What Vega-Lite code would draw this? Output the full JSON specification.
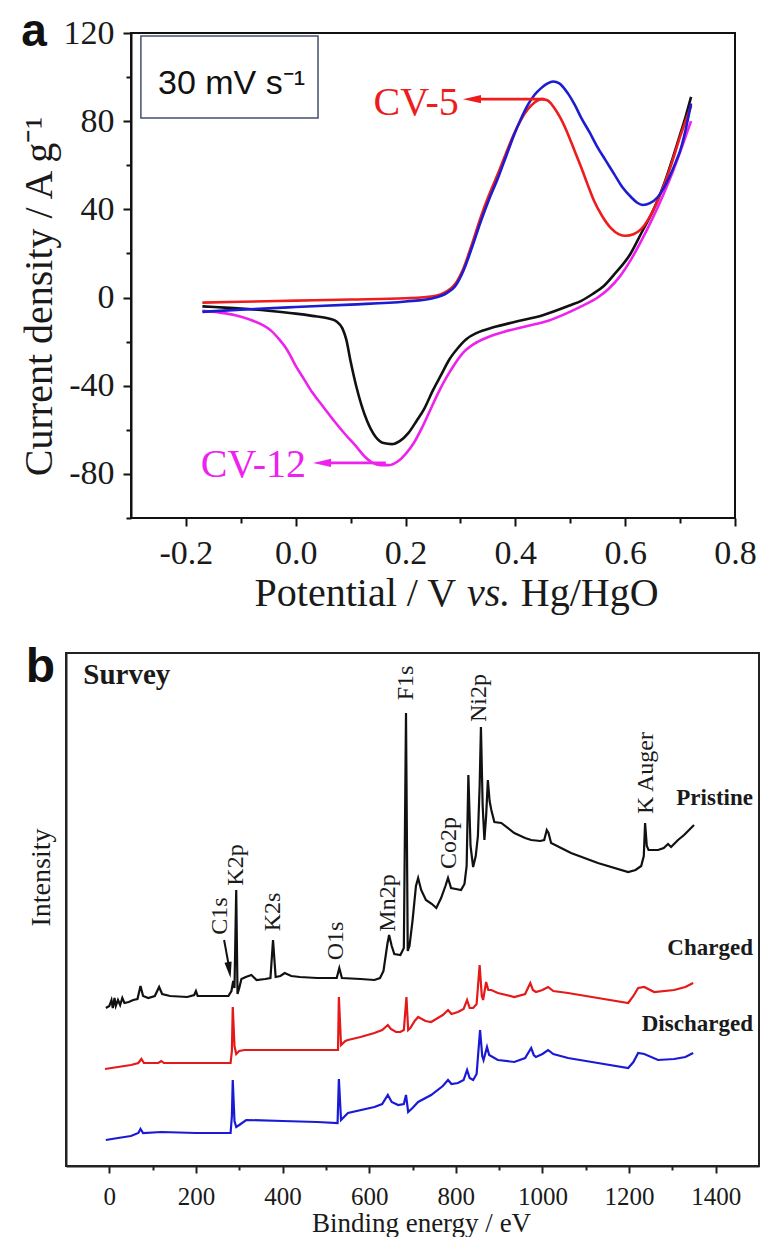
{
  "$schema": "https://vega.github.io/schema/vega-lite/v6.json",
  "background": "white",
  "padding": {"left": 18, "top": 9, "right": 0, "bottom": 0},
  "spacing": 28,
  "resolve": {"scale": {"color": "independent"}},
  "config": {
    "font": "Liberation Serif",
    "view": {"stroke": "#111111", "strokeWidth": 2},
    "axis": {
      "grid": false,
      "domainColor": "#111111",
      "domainWidth": 2,
      "tickColor": "#111111",
      "tickWidth": 2,
      "labelColor": "#1a1a1a",
      "titleColor": "#1a1a1a",
      "labelFont": "Liberation Serif",
      "titleFont": "Liberation Serif",
      "titleFontWeight": "normal",
      "labelOverlap": false,
      "labelFlush": false
    }
  },
  "datasets": {
    "one": [{}],
    "cv": [
      {"s": "CV-5 reverse", "E": 0.72, "j": 91}, {"s": "CV-5 reverse", "E": 0.71, "j": 82}, {"s": "CV-5 reverse", "E": 0.70, "j": 74}, {"s": "CV-5 reverse", "E": 0.69, "j": 66},
      {"s": "CV-5 reverse", "E": 0.67, "j": 51}, {"s": "CV-5 reverse", "E": 0.65, "j": 39}, {"s": "CV-5 reverse", "E": 0.63, "j": 29.5}, {"s": "CV-5 reverse", "E": 0.61, "j": 20},
      {"s": "CV-5 reverse", "E": 0.58, "j": 10.5}, {"s": "CV-5 reverse", "E": 0.56, "j": 5}, {"s": "CV-5 reverse", "E": 0.54, "j": 1.5}, {"s": "CV-5 reverse", "E": 0.52, "j": -1.5},
      {"s": "CV-5 reverse", "E": 0.50, "j": -3.5}, {"s": "CV-5 reverse", "E": 0.45, "j": -8}, {"s": "CV-5 reverse", "E": 0.40, "j": -11}, {"s": "CV-5 reverse", "E": 0.36, "j": -13.5},
      {"s": "CV-5 reverse", "E": 0.33, "j": -16}, {"s": "CV-5 reverse", "E": 0.31, "j": -19}, {"s": "CV-5 reverse", "E": 0.295, "j": -23}, {"s": "CV-5 reverse", "E": 0.28, "j": -28},
      {"s": "CV-5 reverse", "E": 0.265, "j": -35}, {"s": "CV-5 reverse", "E": 0.25, "j": -42}, {"s": "CV-5 reverse", "E": 0.235, "j": -50}, {"s": "CV-5 reverse", "E": 0.22, "j": -56},
      {"s": "CV-5 reverse", "E": 0.205, "j": -61.5}, {"s": "CV-5 reverse", "E": 0.19, "j": -65}, {"s": "CV-5 reverse", "E": 0.175, "j": -66.5}, {"s": "CV-5 reverse", "E": 0.16, "j": -66},
      {"s": "CV-5 reverse", "E": 0.145, "j": -63}, {"s": "CV-5 reverse", "E": 0.13, "j": -56}, {"s": "CV-5 reverse", "E": 0.12, "j": -49}, {"s": "CV-5 reverse", "E": 0.11, "j": -40},
      {"s": "CV-5 reverse", "E": 0.10, "j": -29}, {"s": "CV-5 reverse", "E": 0.092, "j": -19}, {"s": "CV-5 reverse", "E": 0.085, "j": -14}, {"s": "CV-5 reverse", "E": 0.075, "j": -11},
      {"s": "CV-5 reverse", "E": 0.06, "j": -9.5}, {"s": "CV-5 reverse", "E": 0.03, "j": -8.3}, {"s": "CV-5 reverse", "E": 0.0, "j": -7.3}, {"s": "CV-5 reverse", "E": -0.05, "j": -6},
      {"s": "CV-5 reverse", "E": -0.1, "j": -5}, {"s": "CV-5 reverse", "E": -0.17, "j": -4},

      {"s": "CV-12 reverse", "E": 0.72, "j": 80}, {"s": "CV-12 reverse", "E": 0.71, "j": 73}, {"s": "CV-12 reverse", "E": 0.70, "j": 66}, {"s": "CV-12 reverse", "E": 0.685, "j": 56},
      {"s": "CV-12 reverse", "E": 0.67, "j": 47}, {"s": "CV-12 reverse", "E": 0.65, "j": 36}, {"s": "CV-12 reverse", "E": 0.63, "j": 26}, {"s": "CV-12 reverse", "E": 0.61, "j": 17},
      {"s": "CV-12 reverse", "E": 0.59, "j": 9.5}, {"s": "CV-12 reverse", "E": 0.57, "j": 4}, {"s": "CV-12 reverse", "E": 0.55, "j": 0}, {"s": "CV-12 reverse", "E": 0.52, "j": -4},
      {"s": "CV-12 reverse", "E": 0.49, "j": -7.5}, {"s": "CV-12 reverse", "E": 0.46, "j": -10.5}, {"s": "CV-12 reverse", "E": 0.42, "j": -13}, {"s": "CV-12 reverse", "E": 0.38, "j": -15.5},
      {"s": "CV-12 reverse", "E": 0.35, "j": -18}, {"s": "CV-12 reverse", "E": 0.325, "j": -21}, {"s": "CV-12 reverse", "E": 0.305, "j": -25}, {"s": "CV-12 reverse", "E": 0.29, "j": -30},
      {"s": "CV-12 reverse", "E": 0.275, "j": -36}, {"s": "CV-12 reverse", "E": 0.26, "j": -43}, {"s": "CV-12 reverse", "E": 0.245, "j": -51}, {"s": "CV-12 reverse", "E": 0.23, "j": -59},
      {"s": "CV-12 reverse", "E": 0.215, "j": -66}, {"s": "CV-12 reverse", "E": 0.20, "j": -71}, {"s": "CV-12 reverse", "E": 0.185, "j": -74.5}, {"s": "CV-12 reverse", "E": 0.17, "j": -76},
      {"s": "CV-12 reverse", "E": 0.155, "j": -76}, {"s": "CV-12 reverse", "E": 0.14, "j": -75}, {"s": "CV-12 reverse", "E": 0.125, "j": -72}, {"s": "CV-12 reverse", "E": 0.11, "j": -67.5},
      {"s": "CV-12 reverse", "E": 0.09, "j": -62}, {"s": "CV-12 reverse", "E": 0.07, "j": -56}, {"s": "CV-12 reverse", "E": 0.05, "j": -49.5}, {"s": "CV-12 reverse", "E": 0.03, "j": -43},
      {"s": "CV-12 reverse", "E": 0.015, "j": -37}, {"s": "CV-12 reverse", "E": 0.0, "j": -31}, {"s": "CV-12 reverse", "E": -0.015, "j": -24}, {"s": "CV-12 reverse", "E": -0.03, "j": -19},
      {"s": "CV-12 reverse", "E": -0.045, "j": -15}, {"s": "CV-12 reverse", "E": -0.06, "j": -12.5}, {"s": "CV-12 reverse", "E": -0.08, "j": -10.3}, {"s": "CV-12 reverse", "E": -0.11, "j": -8},
      {"s": "CV-12 reverse", "E": -0.14, "j": -6.8}, {"s": "CV-12 reverse", "E": -0.17, "j": -6},

      {"s": "CV-5 forward", "E": -0.17, "j": -2.3}, {"s": "CV-5 forward", "E": -0.1, "j": -1.9}, {"s": "CV-5 forward", "E": 0.0, "j": -1.4}, {"s": "CV-5 forward", "E": 0.1, "j": -0.9},
      {"s": "CV-5 forward", "E": 0.2, "j": -0.3}, {"s": "CV-5 forward", "E": 0.25, "j": 0.6}, {"s": "CV-5 forward", "E": 0.275, "j": 2.8}, {"s": "CV-5 forward", "E": 0.29, "j": 6},
      {"s": "CV-5 forward", "E": 0.305, "j": 13}, {"s": "CV-5 forward", "E": 0.32, "j": 23.5}, {"s": "CV-5 forward", "E": 0.337, "j": 36.5}, {"s": "CV-5 forward", "E": 0.352, "j": 46.5},
      {"s": "CV-5 forward", "E": 0.368, "j": 56}, {"s": "CV-5 forward", "E": 0.383, "j": 65.5}, {"s": "CV-5 forward", "E": 0.398, "j": 74.5}, {"s": "CV-5 forward", "E": 0.41, "j": 80.5},
      {"s": "CV-5 forward", "E": 0.423, "j": 85.5}, {"s": "CV-5 forward", "E": 0.435, "j": 88.5}, {"s": "CV-5 forward", "E": 0.447, "j": 90}, {"s": "CV-5 forward", "E": 0.458, "j": 89.5},
      {"s": "CV-5 forward", "E": 0.471, "j": 86}, {"s": "CV-5 forward", "E": 0.483, "j": 81}, {"s": "CV-5 forward", "E": 0.496, "j": 74}, {"s": "CV-5 forward", "E": 0.508, "j": 66.5},
      {"s": "CV-5 forward", "E": 0.52, "j": 59}, {"s": "CV-5 forward", "E": 0.532, "j": 51}, {"s": "CV-5 forward", "E": 0.543, "j": 44}, {"s": "CV-5 forward", "E": 0.558, "j": 37},
      {"s": "CV-5 forward", "E": 0.574, "j": 31.5}, {"s": "CV-5 forward", "E": 0.588, "j": 28.8}, {"s": "CV-5 forward", "E": 0.601, "j": 28}, {"s": "CV-5 forward", "E": 0.615, "j": 28.7},
      {"s": "CV-5 forward", "E": 0.629, "j": 31}, {"s": "CV-5 forward", "E": 0.641, "j": 35}, {"s": "CV-5 forward", "E": 0.653, "j": 40.6}, {"s": "CV-5 forward", "E": 0.665, "j": 47.5},
      {"s": "CV-5 forward", "E": 0.678, "j": 56}, {"s": "CV-5 forward", "E": 0.69, "j": 65}, {"s": "CV-5 forward", "E": 0.70, "j": 73}, {"s": "CV-5 forward", "E": 0.71, "j": 80},
      {"s": "CV-5 forward", "E": 0.72, "j": 87},

      {"s": "CV-12 forward", "E": -0.17, "j": -6.5}, {"s": "CV-12 forward", "E": -0.1, "j": -5.5}, {"s": "CV-12 forward", "E": 0.0, "j": -4.3}, {"s": "CV-12 forward", "E": 0.1, "j": -3.2},
      {"s": "CV-12 forward", "E": 0.2, "j": -1.8}, {"s": "CV-12 forward", "E": 0.25, "j": -0.3}, {"s": "CV-12 forward", "E": 0.275, "j": 2}, {"s": "CV-12 forward", "E": 0.29, "j": 5},
      {"s": "CV-12 forward", "E": 0.306, "j": 12.5}, {"s": "CV-12 forward", "E": 0.32, "j": 22}, {"s": "CV-12 forward", "E": 0.337, "j": 34.5}, {"s": "CV-12 forward", "E": 0.352, "j": 44.5},
      {"s": "CV-12 forward", "E": 0.368, "j": 54}, {"s": "CV-12 forward", "E": 0.383, "j": 64}, {"s": "CV-12 forward", "E": 0.398, "j": 74}, {"s": "CV-12 forward", "E": 0.41, "j": 81},
      {"s": "CV-12 forward", "E": 0.423, "j": 87.5}, {"s": "CV-12 forward", "E": 0.435, "j": 92}, {"s": "CV-12 forward", "E": 0.447, "j": 95}, {"s": "CV-12 forward", "E": 0.458, "j": 97},
      {"s": "CV-12 forward", "E": 0.469, "j": 98}, {"s": "CV-12 forward", "E": 0.48, "j": 97.2}, {"s": "CV-12 forward", "E": 0.496, "j": 92.5}, {"s": "CV-12 forward", "E": 0.508, "j": 87.5},
      {"s": "CV-12 forward", "E": 0.52, "j": 81.5}, {"s": "CV-12 forward", "E": 0.535, "j": 75}, {"s": "CV-12 forward", "E": 0.55, "j": 68}, {"s": "CV-12 forward", "E": 0.565, "j": 62},
      {"s": "CV-12 forward", "E": 0.58, "j": 56}, {"s": "CV-12 forward", "E": 0.595, "j": 50}, {"s": "CV-12 forward", "E": 0.611, "j": 45.5}, {"s": "CV-12 forward", "E": 0.622, "j": 43},
      {"s": "CV-12 forward", "E": 0.632, "j": 42}, {"s": "CV-12 forward", "E": 0.645, "j": 42.8}, {"s": "CV-12 forward", "E": 0.659, "j": 45.5}, {"s": "CV-12 forward", "E": 0.671, "j": 50},
      {"s": "CV-12 forward", "E": 0.683, "j": 56}, {"s": "CV-12 forward", "E": 0.693, "j": 62}, {"s": "CV-12 forward", "E": 0.70, "j": 66.5}, {"s": "CV-12 forward", "E": 0.71, "j": 76},
      {"s": "CV-12 forward", "E": 0.72, "j": 88}
    ],
    "xps": [
      {"s": "Pristine", "B": -8, "I": 158}, {"s": "Pristine", "B": 0, "I": 160}, {"s": "Pristine", "B": 5, "I": 166}, {"s": "Pristine", "B": 8, "I": 158},
      {"s": "Pristine", "B": 12, "I": 168}, {"s": "Pristine", "B": 15, "I": 160}, {"s": "Pristine", "B": 20, "I": 166}, {"s": "Pristine", "B": 25, "I": 161},
      {"s": "Pristine", "B": 30, "I": 168}, {"s": "Pristine", "B": 35, "I": 163}, {"s": "Pristine", "B": 45, "I": 164}, {"s": "Pristine", "B": 55, "I": 166},
      {"s": "Pristine", "B": 65, "I": 167}, {"s": "Pristine", "B": 72, "I": 180}, {"s": "Pristine", "B": 78, "I": 170}, {"s": "Pristine", "B": 90, "I": 168},
      {"s": "Pristine", "B": 105, "I": 170}, {"s": "Pristine", "B": 115, "I": 179}, {"s": "Pristine", "B": 122, "I": 172}, {"s": "Pristine", "B": 140, "I": 170},
      {"s": "Pristine", "B": 180, "I": 169}, {"s": "Pristine", "B": 196, "I": 171}, {"s": "Pristine", "B": 200, "I": 175}, {"s": "Pristine", "B": 204, "I": 170},
      {"s": "Pristine", "B": 240, "I": 170}, {"s": "Pristine", "B": 275, "I": 170}, {"s": "Pristine", "B": 282, "I": 175}, {"s": "Pristine", "B": 286, "I": 185},
      {"s": "Pristine", "B": 289, "I": 178}, {"s": "Pristine", "B": 293, "I": 276}, {"s": "Pristine", "B": 296, "I": 172}, {"s": "Pristine", "B": 300, "I": 178},
      {"s": "Pristine", "B": 305, "I": 187}, {"s": "Pristine", "B": 315, "I": 189}, {"s": "Pristine", "B": 328, "I": 191}, {"s": "Pristine", "B": 340, "I": 186},
      {"s": "Pristine", "B": 360, "I": 187}, {"s": "Pristine", "B": 372, "I": 188}, {"s": "Pristine", "B": 378, "I": 226}, {"s": "Pristine", "B": 384, "I": 189},
      {"s": "Pristine", "B": 395, "I": 190}, {"s": "Pristine", "B": 405, "I": 193}, {"s": "Pristine", "B": 420, "I": 190}, {"s": "Pristine", "B": 440, "I": 189},
      {"s": "Pristine", "B": 480, "I": 188}, {"s": "Pristine", "B": 525, "I": 188}, {"s": "Pristine", "B": 531, "I": 198}, {"s": "Pristine", "B": 537, "I": 188},
      {"s": "Pristine", "B": 580, "I": 187}, {"s": "Pristine", "B": 612, "I": 186}, {"s": "Pristine", "B": 625, "I": 188}, {"s": "Pristine", "B": 633, "I": 195},
      {"s": "Pristine", "B": 642, "I": 222}, {"s": "Pristine", "B": 646, "I": 231}, {"s": "Pristine", "B": 652, "I": 220}, {"s": "Pristine", "B": 658, "I": 212},
      {"s": "Pristine", "B": 672, "I": 211}, {"s": "Pristine", "B": 680, "I": 218}, {"s": "Pristine", "B": 685, "I": 453}, {"s": "Pristine", "B": 689, "I": 215},
      {"s": "Pristine", "B": 693, "I": 220}, {"s": "Pristine", "B": 700, "I": 245}, {"s": "Pristine", "B": 708, "I": 280}, {"s": "Pristine", "B": 713, "I": 288},
      {"s": "Pristine", "B": 720, "I": 276}, {"s": "Pristine", "B": 731, "I": 266}, {"s": "Pristine", "B": 745, "I": 262}, {"s": "Pristine", "B": 755, "I": 258},
      {"s": "Pristine", "B": 766, "I": 268}, {"s": "Pristine", "B": 776, "I": 280}, {"s": "Pristine", "B": 782, "I": 288}, {"s": "Pristine", "B": 789, "I": 278},
      {"s": "Pristine", "B": 800, "I": 277}, {"s": "Pristine", "B": 812, "I": 276}, {"s": "Pristine", "B": 820, "I": 282}, {"s": "Pristine", "B": 825, "I": 300},
      {"s": "Pristine", "B": 829, "I": 391}, {"s": "Pristine", "B": 834, "I": 320}, {"s": "Pristine", "B": 840, "I": 299}, {"s": "Pristine", "B": 846, "I": 310},
      {"s": "Pristine", "B": 851, "I": 330}, {"s": "Pristine", "B": 855, "I": 380}, {"s": "Pristine", "B": 858, "I": 439}, {"s": "Pristine", "B": 862, "I": 360},
      {"s": "Pristine", "B": 866, "I": 326}, {"s": "Pristine", "B": 870, "I": 350}, {"s": "Pristine", "B": 874, "I": 386}, {"s": "Pristine", "B": 878, "I": 365},
      {"s": "Pristine", "B": 882, "I": 356}, {"s": "Pristine", "B": 889, "I": 344}, {"s": "Pristine", "B": 905, "I": 343}, {"s": "Pristine", "B": 935, "I": 333},
      {"s": "Pristine", "B": 960, "I": 328}, {"s": "Pristine", "B": 974, "I": 326}, {"s": "Pristine", "B": 995, "I": 325}, {"s": "Pristine", "B": 1004, "I": 326},
      {"s": "Pristine", "B": 1010, "I": 336}, {"s": "Pristine", "B": 1014, "I": 333}, {"s": "Pristine", "B": 1020, "I": 323}, {"s": "Pristine", "B": 1066, "I": 313},
      {"s": "Pristine", "B": 1128, "I": 303}, {"s": "Pristine", "B": 1198, "I": 294}, {"s": "Pristine", "B": 1215, "I": 296}, {"s": "Pristine", "B": 1228, "I": 300},
      {"s": "Pristine", "B": 1234, "I": 310}, {"s": "Pristine", "B": 1237, "I": 343}, {"s": "Pristine", "B": 1241, "I": 320}, {"s": "Pristine", "B": 1245, "I": 316},
      {"s": "Pristine", "B": 1267, "I": 316}, {"s": "Pristine", "B": 1280, "I": 318}, {"s": "Pristine", "B": 1290, "I": 322}, {"s": "Pristine", "B": 1297, "I": 319},
      {"s": "Pristine", "B": 1313, "I": 326}, {"s": "Pristine", "B": 1327, "I": 331}, {"s": "Pristine", "B": 1350, "I": 341},

      {"s": "Charged", "B": -10, "I": 97}, {"s": "Charged", "B": 20, "I": 99}, {"s": "Charged", "B": 50, "I": 101}, {"s": "Charged", "B": 67, "I": 103},
      {"s": "Charged", "B": 74, "I": 107}, {"s": "Charged", "B": 80, "I": 103}, {"s": "Charged", "B": 113, "I": 103}, {"s": "Charged", "B": 120, "I": 105},
      {"s": "Charged", "B": 126, "I": 103}, {"s": "Charged", "B": 200, "I": 103}, {"s": "Charged", "B": 280, "I": 103}, {"s": "Charged", "B": 283, "I": 115},
      {"s": "Charged", "B": 285, "I": 159}, {"s": "Charged", "B": 289, "I": 120}, {"s": "Charged", "B": 293, "I": 112}, {"s": "Charged", "B": 300, "I": 115},
      {"s": "Charged", "B": 312, "I": 116}, {"s": "Charged", "B": 400, "I": 116}, {"s": "Charged", "B": 460, "I": 116}, {"s": "Charged", "B": 528, "I": 116},
      {"s": "Charged", "B": 530, "I": 169}, {"s": "Charged", "B": 535, "I": 121}, {"s": "Charged", "B": 545, "I": 125}, {"s": "Charged", "B": 551, "I": 126},
      {"s": "Charged", "B": 580, "I": 129}, {"s": "Charged", "B": 612, "I": 133}, {"s": "Charged", "B": 630, "I": 136}, {"s": "Charged", "B": 643, "I": 141},
      {"s": "Charged", "B": 650, "I": 137}, {"s": "Charged", "B": 662, "I": 134}, {"s": "Charged", "B": 672, "I": 134}, {"s": "Charged", "B": 680, "I": 136},
      {"s": "Charged", "B": 686, "I": 169}, {"s": "Charged", "B": 690, "I": 136}, {"s": "Charged", "B": 695, "I": 138}, {"s": "Charged", "B": 705, "I": 145},
      {"s": "Charged", "B": 713, "I": 149}, {"s": "Charged", "B": 730, "I": 145}, {"s": "Charged", "B": 743, "I": 144}, {"s": "Charged", "B": 770, "I": 151},
      {"s": "Charged", "B": 782, "I": 156}, {"s": "Charged", "B": 790, "I": 152}, {"s": "Charged", "B": 805, "I": 154}, {"s": "Charged", "B": 818, "I": 157},
      {"s": "Charged", "B": 826, "I": 166}, {"s": "Charged", "B": 832, "I": 158}, {"s": "Charged", "B": 840, "I": 158}, {"s": "Charged", "B": 848, "I": 162},
      {"s": "Charged", "B": 855, "I": 201}, {"s": "Charged", "B": 860, "I": 170}, {"s": "Charged", "B": 863, "I": 166}, {"s": "Charged", "B": 870, "I": 184},
      {"s": "Charged", "B": 875, "I": 176}, {"s": "Charged", "B": 882, "I": 176}, {"s": "Charged", "B": 897, "I": 173}, {"s": "Charged", "B": 935, "I": 169},
      {"s": "Charged", "B": 960, "I": 172}, {"s": "Charged", "B": 972, "I": 183}, {"s": "Charged", "B": 978, "I": 176}, {"s": "Charged", "B": 985, "I": 174},
      {"s": "Charged", "B": 1000, "I": 176}, {"s": "Charged", "B": 1013, "I": 179}, {"s": "Charged", "B": 1025, "I": 175}, {"s": "Charged", "B": 1059, "I": 173},
      {"s": "Charged", "B": 1128, "I": 168}, {"s": "Charged", "B": 1198, "I": 163}, {"s": "Charged", "B": 1210, "I": 170}, {"s": "Charged", "B": 1221, "I": 178},
      {"s": "Charged", "B": 1235, "I": 179}, {"s": "Charged", "B": 1258, "I": 174}, {"s": "Charged", "B": 1304, "I": 176}, {"s": "Charged", "B": 1330, "I": 179},
      {"s": "Charged", "B": 1348, "I": 183},

      {"s": "Discharged", "B": -8, "I": 26}, {"s": "Discharged", "B": 20, "I": 28}, {"s": "Discharged", "B": 50, "I": 30}, {"s": "Discharged", "B": 67, "I": 33},
      {"s": "Discharged", "B": 72, "I": 37}, {"s": "Discharged", "B": 78, "I": 33}, {"s": "Discharged", "B": 120, "I": 34}, {"s": "Discharged", "B": 200, "I": 33},
      {"s": "Discharged", "B": 280, "I": 33}, {"s": "Discharged", "B": 283, "I": 50}, {"s": "Discharged", "B": 285, "I": 86}, {"s": "Discharged", "B": 289, "I": 45},
      {"s": "Discharged", "B": 293, "I": 39}, {"s": "Discharged", "B": 300, "I": 41}, {"s": "Discharged", "B": 316, "I": 46}, {"s": "Discharged", "B": 400, "I": 45},
      {"s": "Discharged", "B": 480, "I": 44}, {"s": "Discharged", "B": 527, "I": 43}, {"s": "Discharged", "B": 530, "I": 87}, {"s": "Discharged", "B": 535, "I": 46},
      {"s": "Discharged", "B": 551, "I": 53}, {"s": "Discharged", "B": 612, "I": 59}, {"s": "Discharged", "B": 630, "I": 62}, {"s": "Discharged", "B": 643, "I": 71},
      {"s": "Discharged", "B": 652, "I": 64}, {"s": "Discharged", "B": 667, "I": 61}, {"s": "Discharged", "B": 680, "I": 62}, {"s": "Discharged", "B": 685, "I": 71},
      {"s": "Discharged", "B": 690, "I": 54}, {"s": "Discharged", "B": 700, "I": 58}, {"s": "Discharged", "B": 713, "I": 64}, {"s": "Discharged", "B": 743, "I": 71},
      {"s": "Discharged", "B": 770, "I": 80}, {"s": "Discharged", "B": 782, "I": 86}, {"s": "Discharged", "B": 790, "I": 82}, {"s": "Discharged", "B": 805, "I": 83},
      {"s": "Discharged", "B": 818, "I": 86}, {"s": "Discharged", "B": 826, "I": 96}, {"s": "Discharged", "B": 832, "I": 88}, {"s": "Discharged", "B": 840, "I": 86},
      {"s": "Discharged", "B": 848, "I": 92}, {"s": "Discharged", "B": 856, "I": 136}, {"s": "Discharged", "B": 861, "I": 110}, {"s": "Discharged", "B": 864, "I": 106},
      {"s": "Discharged", "B": 872, "I": 119}, {"s": "Discharged", "B": 877, "I": 111}, {"s": "Discharged", "B": 897, "I": 106}, {"s": "Discharged", "B": 935, "I": 104},
      {"s": "Discharged", "B": 960, "I": 108}, {"s": "Discharged", "B": 974, "I": 118}, {"s": "Discharged", "B": 980, "I": 111}, {"s": "Discharged", "B": 985, "I": 109},
      {"s": "Discharged", "B": 1000, "I": 112}, {"s": "Discharged", "B": 1013, "I": 116}, {"s": "Discharged", "B": 1025, "I": 112}, {"s": "Discharged", "B": 1059, "I": 108},
      {"s": "Discharged", "B": 1128, "I": 103}, {"s": "Discharged", "B": 1198, "I": 98}, {"s": "Discharged", "B": 1210, "I": 104}, {"s": "Discharged", "B": 1221, "I": 113},
      {"s": "Discharged", "B": 1235, "I": 112}, {"s": "Discharged", "B": 1267, "I": 106}, {"s": "Discharged", "B": 1304, "I": 107}, {"s": "Discharged", "B": 1330, "I": 109},
      {"s": "Discharged", "B": 1348, "I": 113}
    ],
    "peaks": [
      {"label": "C1s", "at": 256, "level": 250},
      {"label": "K2p", "at": 293, "level": 301},
      {"label": "K2s", "at": 378, "level": 254},
      {"label": "O1s", "at": 524, "level": 225},
      {"label": "Mn2p", "at": 644, "level": 263},
      {"label": "F1s", "at": 685, "level": 483},
      {"label": "Co2p", "at": 785, "level": 323},
      {"label": "Ni2p", "at": 854, "level": 468},
      {"label": "K Auger", "at": 1239, "level": 393}
    ],
    "samples": [
      {"tag": "Pristine", "level": 368},
      {"tag": "Charged", "level": 218},
      {"tag": "Discharged", "level": 142}
    ]
  },
  "vconcat": [
    {
      "width": 669,
      "height": 485,
      "view": {"stroke": null},
      "layer": [
        {
          "data": {"name": "one"},
          "mark": {"type": "rect", "fill": null, "stroke": "#111111", "strokeWidth": 2},
          "encoding": {
            "x": {"datum": -0.3}, "x2": {"datum": 0.8},
            "y": {"datum": -100}, "y2": {"datum": 120}
          }
        },
        {
          "data": {"name": "cv"},
          "mark": {"type": "line", "strokeWidth": 2.6, "interpolate": "monotone"},
          "encoding": {
            "x": {
              "field": "E", "type": "quantitative",
              "scale": {"domain": [-0.41838, 0.8], "nice": false, "zero": false},
              "axis": {
                "title": null,
                "domain": false,
                "values": [-0.2, -0.1, 0, 0.1, 0.2, 0.3, 0.4, 0.5, 0.6, 0.7, 0.8],
                "labelExpr": "abs(round(datum.value*10)) % 2 == 0 ? replace(format(datum.value, '.1f'), '\u2212', '-') : ''",
                "tickSize": {"condition": {"test": "abs(round(datum.value*10)) % 2 == 0", "value": 8}, "value": 5},
                "labelFontSize": 34,
                "labelPadding": 10
              }
            },
            "y": {
              "field": "j", "type": "quantitative",
              "scale": {"domain": [-100, 120], "nice": false, "zero": false},
              "axis": {
                "title": "Current density / A g\u207b\u00b9",
                "offset": -65,
                "values": [-100, -80, -60, -40, -20, 0, 20, 40, 60, 80, 100, 120],
                "labelExpr": "datum.value % 40 == 0 ? '' + datum.value : ''",
                "tickSize": {"condition": {"test": "datum.value % 40 == 0", "value": 8}, "value": 5},
                "labelFontSize": 34,
                "labelPadding": 9,
                "titleFontSize": 40,
                "titleX": -80,
                "titleY": 263,
                "titleAngle": 270,
                "titleAlign": "center",
                "titleBaseline": "alphabetic"
              }
            },
            "color": {
              "field": "s", "type": "nominal", "legend": null,
              "scale": {
                "domain": ["CV-5 reverse", "CV-12 reverse", "CV-5 forward", "CV-12 forward"],
                "range": ["#111111", "#ee22ee", "#ee1c1c", "#1c1cd0"]
              }
            }
          }
        },
        {
          "data": {"name": "one"},
          "mark": {"type": "rect", "fill": null, "stroke": "#45506e", "strokeWidth": 1.5},
          "encoding": {
            "x": {"datum": -0.282}, "x2": {"datum": 0.0406},
            "y": {"datum": 118.6}, "y2": {"datum": 81.4}
          }
        },
        {
          "data": {"name": "one"},
          "mark": {"type": "text", "text": "30 mV s\u207b\u00b9", "font": "Liberation Sans", "fontSize": 34, "align": "left", "baseline": "alphabetic", "color": "#111111"},
          "encoding": {"x": {"datum": -0.2508}, "y": {"datum": 92.3}}
        },
        {
          "data": {"name": "one"},
          "mark": {"type": "rule", "color": "#ee1c1c", "strokeWidth": 2.6},
          "encoding": {"x": {"datum": 0.321}, "x2": {"datum": 0.452}, "y": {"datum": 90}}
        },
        {
          "data": {"name": "one"},
          "mark": {"type": "point", "shape": "M-1,0L1,-0.45L1,0.45Z", "filled": true, "opacity": 1, "color": "#ee1c1c", "size": 324},
          "encoding": {"x": {"datum": 0.321}, "y": {"datum": 90}}
        },
        {
          "data": {"name": "one"},
          "mark": {"type": "text", "text": "CV-5", "fontSize": 40, "align": "right", "baseline": "alphabetic", "color": "#ee1c1c"},
          "encoding": {"x": {"datum": 0.297}, "y": {"datum": 82.8}}
        },
        {
          "data": {"name": "one"},
          "mark": {"type": "rule", "color": "#ee22ee", "strokeWidth": 2.6},
          "encoding": {"x": {"datum": 0.048}, "x2": {"datum": 0.164}, "y": {"datum": -75}}
        },
        {
          "data": {"name": "one"},
          "mark": {"type": "point", "shape": "M-1,0L1,-0.45L1,0.45Z", "filled": true, "opacity": 1, "color": "#ee22ee", "size": 324},
          "encoding": {"x": {"datum": 0.048}, "y": {"datum": -75}}
        },
        {
          "data": {"name": "one"},
          "mark": {"type": "text", "text": "CV-12", "fontSize": 40, "align": "right", "baseline": "alphabetic", "color": "#ee22ee"},
          "encoding": {"x": {"datum": 0.0187}, "y": {"datum": -81.4}}
        },
        {
          "data": {"name": "one"},
          "mark": {"type": "text", "text": "a", "font": "Liberation Sans", "fontSize": 46, "fontWeight": "bold", "align": "left", "baseline": "alphabetic", "color": "#111111"},
          "encoding": {"x": {"datum": -0.5}, "y": {"datum": 114.1}}
        },
        {
          "data": {"name": "one"},
          "mark": {"type": "text", "text": "Potential / V", "fontSize": 40, "align": "right", "baseline": "alphabetic", "color": "#1a1a1a"},
          "encoding": {"x": {"datum": 0.292}, "y": {"datum": -140}}
        },
        {
          "data": {"name": "one"},
          "mark": {"type": "text", "text": "vs.", "fontSize": 40, "fontStyle": "italic", "align": "left", "baseline": "alphabetic", "color": "#1a1a1a"},
          "encoding": {"x": {"datum": 0.312}, "y": {"datum": -140}}
        },
        {
          "data": {"name": "one"},
          "mark": {"type": "text", "text": "Hg/HgO", "fontSize": 40, "align": "left", "baseline": "alphabetic", "color": "#1a1a1a"},
          "encoding": {"x": {"datum": 0.410}, "y": {"datum": -140}}
        }
      ]
    },
    {
      "width": 693,
      "height": 513,
      "view": {"stroke": "#222222", "strokeWidth": 2},
      "layer": [
        {
          "data": {"name": "xps"},
          "mark": {"type": "line", "strokeWidth": 2.2},
          "encoding": {
            "x": {
              "field": "B", "type": "quantitative",
              "scale": {"domain": [-100, 1500], "nice": false, "zero": false},
              "axis": {
                "title": "Binding energy / eV",
                "values": [0, 100, 200, 300, 400, 500, 600, 700, 800, 900, 1000, 1100, 1200, 1300, 1400],
                "labelExpr": "datum.value % 200 == 0 ? '' + datum.value : ''",
                "tickSize": {"condition": {"test": "datum.value % 200 == 0", "value": 7}, "value": 4},
                "labelFontSize": 25,
                "labelPadding": 11,
                "titleFontSize": 27,
                "titlePadding": 1,
                "titleX": 355,
                "domainColor": "#222222",
                "tickColor": "#222222"
              }
            },
            "y": {
              "field": "I", "type": "quantitative",
              "scale": {"domain": [0, 513], "nice": false, "zero": false},
              "axis": {
                "title": "Intensity",
                "ticks": false,
                "labels": false,
                "titleFontSize": 28,
                "titleX": -17,
                "titleY": 224,
                "titleAngle": 270,
                "titleAlign": "center",
                "titleBaseline": "alphabetic",
                "domainColor": "#222222"
              }
            },
            "color": {
              "field": "s", "type": "nominal", "legend": null,
              "scale": {"domain": ["Pristine", "Charged", "Discharged"], "range": ["#111111", "#e41a1a", "#1a1ad6"]}
            }
          }
        },
        {
          "data": {"name": "peaks"},
          "mark": {"type": "text", "angle": 270, "fontSize": 24, "align": "center", "baseline": "middle", "color": "#1a1a1a"},
          "encoding": {
            "x": {"field": "at", "type": "quantitative"},
            "y": {"field": "level", "type": "quantitative"},
            "text": {"field": "label"}
          }
        },
        {
          "data": {"name": "one"},
          "mark": {"type": "rule", "color": "#111111", "strokeWidth": 2},
          "encoding": {"x": {"datum": 265}, "x2": {"datum": 277}, "y": {"datum": 226}, "y2": {"datum": 198}}
        },
        {
          "data": {"name": "one"},
          "mark": {"type": "point", "shape": "M0,1L-0.45,-1L0.45,-1Z", "filled": true, "opacity": 1, "color": "#111111", "size": 256, "angle": 351},
          "encoding": {"x": {"datum": 277}, "y": {"datum": 196}}
        },
        {
          "data": {"name": "samples"},
          "mark": {"type": "text", "fontSize": 23, "fontWeight": "bold", "align": "right", "baseline": "middle", "color": "#1a1a1a"},
          "encoding": {
            "x": {"datum": 1486},
            "y": {"field": "level", "type": "quantitative"},
            "text": {"field": "tag"}
          }
        },
        {
          "data": {"name": "one"},
          "mark": {"type": "text", "text": "Survey", "fontSize": 29, "fontWeight": "bold", "align": "left", "baseline": "middle", "color": "#1a1a1a"},
          "encoding": {"x": {"datum": -60}, "y": {"datum": 491}}
        },
        {
          "data": {"name": "one"},
          "mark": {"type": "text", "text": "b", "font": "Liberation Sans", "fontSize": 48, "fontWeight": "bold", "align": "left", "baseline": "alphabetic", "color": "#111111"},
          "encoding": {"x": {"datum": -193}, "y": {"datum": 484}}
        }
      ]
    }
  ]
}
